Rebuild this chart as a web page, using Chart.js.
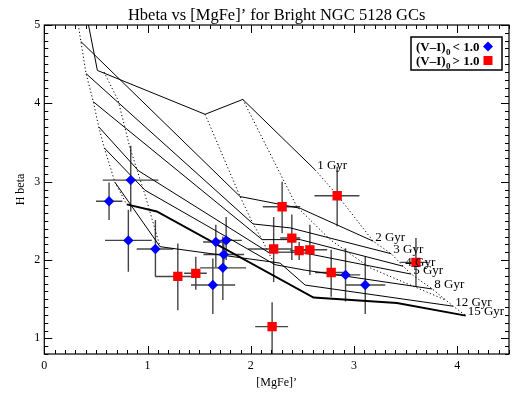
<!DOCTYPE html>
<html lang="en">
<head>
<meta charset="UTF-8">
<title>Hbeta vs [MgFe]' for Bright NGC 5128 GCs</title>
<script src="https://cdn.jsdelivr.net/npm/chart.js"></script>
<style>
    html, body { margin: 0; padding: 0; background: #ffffff; }
    canvas { display: block; }
</style>
</head>
<body>
<canvas id="chart" width="519" height="393"></canvas>
<script>
// clusters with (V-I)0 < 1.0 (blue diamonds)
const blueX   = [0.627, 0.837, 0.814, 1.076, 1.661, 1.761, 1.738, 1.729, 1.632, 2.917, 3.108];
const blueY   = [2.75, 3.02, 2.25, 2.14, 2.23, 2.25, 2.07, 1.90, 1.68, 1.81, 1.68];
const blueXLo = [0.501, 0.566, 0.588, 0.895, 1.538, 1.638, 1.541, 1.509, 1.421, 2.768, 2.914];
const blueXHi = [0.756, 1.105, 1.041, 1.250, 1.767, 1.913, 1.935, 1.954, 1.848, 3.059, 3.302];
const blueYLo = [2.51, 2.62, 1.85, 1.79, 1.91, 2.00, 1.87, 1.49, 1.31, 1.47, 1.31];
const blueYHi = [2.99, 3.46, 2.64, 2.51, 2.45, 2.55, 2.26, 2.30, 2.02, 2.15, 2.04];

// clusters with (V-I)0 > 1.0 (red squares)
const redX   = [1.293, 1.467, 2.303, 2.221, 2.206, 2.836, 2.397, 2.468, 2.572, 2.778, 3.599];
const redY   = [1.79, 1.83, 2.68, 2.14, 1.15, 2.82, 2.28, 2.12, 2.13, 1.84, 1.97];
const redXLo = [1.073, 1.354, 2.116, 1.974, 2.042, 2.616, 2.284, 2.381, 2.507, 2.623, 3.447];
const redXHi = [1.509, 1.574, 2.478, 2.400, 2.361, 3.052, 2.478, 2.555, 2.739, 2.930, 3.721];
const redYLo = [1.36, 1.62, 2.34, 1.72, 0.70, 2.43, 2.00, 2.00, 1.81, 1.53, 1.66];
const redYHi = [2.21, 2.04, 3.00, 2.55, 1.46, 3.19, 2.58, 2.23, 2.45, 2.13, 2.28];

// model grid: lines of constant age
const gyr1  = [[0.409, 5.13], [0.514, 4.42], [1.557, 3.86], [1.922, 4.05], [2.623, 3.15]];
const gyr2  = [[0.353, 4.79], [1.896, 2.81], [2.478, 2.66], [3.185, 2.24]];
const gyr3  = [[0.404, 4.38], [2.022, 2.46], [2.381, 2.41], [3.360, 2.08]];
const gyr4  = [[0.475, 4.02], [2.110, 2.26], [2.478, 2.26], [3.476, 1.92]];
const gyr5  = [[0.527, 3.70], [0.911, 3.14], [2.168, 2.10], [2.478, 2.10], [3.553, 1.82]];
const gyr8  = [[0.581, 3.43], [0.976, 2.89], [2.235, 1.94], [2.526, 1.87], [3.757, 1.63]];
const gyr12 = [[0.685, 2.99], [1.121, 2.17], [2.284, 1.96], [2.526, 1.68], [3.960, 1.41]];
const gyr15 = [[0.798, 2.71], [1.089, 2.62], [2.607, 1.52], [3.415, 1.45], [4.081, 1.29]];
const ageNames = ['1 Gyr', '2 Gyr', '3 Gyr', '4 Gyr', '5 Gyr', '8 Gyr', '12 Gyr', '15 Gyr'];

// model grid: lines of constant metallicity (dotted)
const metal1 = [[0.302, 5.09], [0.329, 5.00], [0.404, 4.38], [0.475, 4.02], [0.527, 3.70], [0.581, 3.43], [0.685, 2.99], [0.798, 2.71]];
const metal2 = [[0.578, 4.40], [0.714, 4.04], [0.830, 3.43], [0.976, 2.83], [1.121, 2.17]];
const metal3 = [[1.557, 3.86], [1.896, 2.81], [2.022, 2.46], [2.110, 2.26], [2.168, 2.10], [2.235, 1.94]];
const metal4 = [[1.922, 4.05], [2.446, 2.68], [2.768, 2.26], [3.155, 1.90], [3.883, 1.49]];
const metal5 = [[2.623, 3.15], [2.836, 2.83], [3.185, 2.24], [3.360, 2.08], [3.476, 1.92], [3.553, 1.82], [3.757, 1.63], [3.960, 1.41], [4.081, 1.29]];

const ageTracks = [gyr1, gyr2, gyr3, gyr4, gyr5, gyr8, gyr12, gyr15];
const metalTracks = [metal1, metal2, metal3, metal4, metal5];

const serif = '"Liberation Serif", "DejaVu Serif", serif';
const toPts = arr => arr.map(p => ({x: p[0], y: p[1]}));

const datasets = [
    {
        label: 'blue',
        data: blueX.map((v, i) => ({x: v, y: blueY[i]})),
        pointStyle: 'rectRot',
        pointRadius: 5.2,
        backgroundColor: '#0000ff',
        borderColor: '#0000ff',
        borderWidth: 0
    },
    {
        label: 'red',
        data: redX.map((v, i) => ({x: v, y: redY[i]})),
        pointStyle: 'rect',
        pointRadius: 6.6,
        backgroundColor: '#ff0000',
        borderColor: '#ff0000',
        borderWidth: 0
    }
];
ageTracks.forEach((t, i) => {
    datasets.push({
        label: ageNames[i],
        data: toPts(t),
        showLine: true,
        pointRadius: 0,
        borderColor: '#000000',
        borderWidth: i === ageTracks.length - 1 ? 2 : 1
    });
});
metalTracks.forEach((t, i) => {
    datasets.push({
        label: 'Z' + (i + 1),
        data: toPts(t),
        showLine: true,
        pointRadius: 0,
        borderColor: '#000000',
        borderWidth: 1,
        borderDash: [1.2, 2.4]
    });
});

// error bars, frame with inward ticks, title, track labels and legend
const decor = {
    id: 'decor',
    beforeDatasetsDraw(chart) {
        const {ctx, chartArea: a, scales: {x, y}} = chart;
        ctx.save();
        ctx.beginPath();
        ctx.rect(a.left, a.top, a.right - a.left, a.bottom - a.top);
        ctx.clip();
        ctx.strokeStyle = '#444444';
        ctx.lineWidth = 1.4;
        const seg = (x1, y1, x2, y2) => {
            ctx.beginPath();
            ctx.moveTo(x.getPixelForValue(x1), y.getPixelForValue(y1));
            ctx.lineTo(x.getPixelForValue(x2), y.getPixelForValue(y2));
            ctx.stroke();
        };
        blueX.forEach((v, i) => {
            seg(blueXLo[i], blueY[i], blueXHi[i], blueY[i]);
            seg(v, blueYLo[i], v, blueYHi[i]);
        });
        redX.forEach((v, i) => {
            seg(redXLo[i], redY[i], redXHi[i], redY[i]);
            seg(v, redYLo[i], v, redYHi[i]);
        });
        ctx.restore();
    },
    afterDraw(chart) {
        const {ctx, chartArea: a, scales: {x, y}} = chart;
        ctx.save();
        ctx.strokeStyle = '#000000';
        ctx.lineWidth = 1.2;
        ctx.strokeRect(a.left, a.top, a.right - a.left, a.bottom - a.top);

        // ticks every 0.1, longer at whole numbers
        ctx.lineWidth = 1;
        ctx.beginPath();
        for (let i = 0; i <= 45; i++) {
            const px = Math.round(x.getPixelForValue(i / 10)) + 0.5;
            const len = i % 10 === 0 ? 8 : 4;
            ctx.moveTo(px, a.bottom); ctx.lineTo(px, a.bottom - len);
            ctx.moveTo(px, a.top); ctx.lineTo(px, a.top + len);
        }
        for (let i = 8; i <= 50; i++) {
            const py = Math.round(y.getPixelForValue(i / 10)) + 0.5;
            const len = i % 10 === 0 ? 8 : 4;
            ctx.moveTo(a.left, py); ctx.lineTo(a.left + len, py);
            ctx.moveTo(a.right, py); ctx.lineTo(a.right - len, py);
        }
        ctx.stroke();

        // title
        ctx.fillStyle = '#000000';
        ctx.font = '16.5px ' + serif;
        ctx.textAlign = 'center';
        ctx.textBaseline = 'alphabetic';
        ctx.fillText('Hbeta vs [MgFe]\u2019 for Bright NGC 5128 GCs', (a.left + a.right) / 2, 19.5);

        // age labels at the end of each track
        ctx.font = '13px ' + serif;
        ctx.textAlign = 'left';
        ctx.textBaseline = 'middle';
        ageTracks.forEach((t, i) => {
            const p = t[t.length - 1];
            ctx.fillText(ageNames[i], x.getPixelForValue(p[0]) + 2, y.getPixelForValue(p[1]) - 4);
        });

        // legend box
        const bx = a.right - 98, by = a.top + 12;
        ctx.lineWidth = 1.5;
        ctx.strokeRect(bx, by, 91, 33);
        ctx.textBaseline = 'alphabetic';
        const rows = [['<', '#0000ff', 'rectRot'], ['>', '#ff0000', 'rect']];
        rows.forEach((r, k) => {
            const base = by + 14 + k * 14;
            ctx.fillStyle = '#000000';
            ctx.font = 'bold 13px ' + serif;
            ctx.fillText('(V\u2013I)', bx + 5, base);
            const w = ctx.measureText('(V\u2013I)').width;
            ctx.font = 'bold 9px ' + serif;
            ctx.fillText('0', bx + 5 + w + 0.5, base + 4);
            ctx.font = 'bold 13px ' + serif;
            ctx.fillText(r[0] + ' 1.0', bx + 5 + w + 7, base);
            const mx = bx + 77, my = base - 4.5;
            ctx.fillStyle = r[1];
            ctx.beginPath();
            if (r[2] === 'rectRot') {
                ctx.moveTo(mx - 5, my); ctx.lineTo(mx, my - 5);
                ctx.lineTo(mx + 5, my); ctx.lineTo(mx, my + 5);
                ctx.closePath();
            } else {
                ctx.rect(mx - 4.5, my - 4.5, 9, 9);
            }
            ctx.fill();
        });
        ctx.restore();
    }
};

new Chart(document.getElementById('chart').getContext('2d'), {
    type: 'scatter',
    data: { datasets: datasets },
    options: {
        responsive: false,
        animation: false,
        layout: { padding: { top: 25, left: 6, right: 10, bottom: 0 } },
        plugins: {
            legend: { display: false },
            tooltip: { enabled: false },
            title: { display: false }
        },
        scales: {
            x: {
                type: 'linear',
                min: 0,
                max: 4.5,
                afterFit: s => { s.height = 39; },
                grid: { display: false, drawTicks: false },
                border: { display: false },
                ticks: {
                    stepSize: 1,
                    includeBounds: false,
                    padding: 5,
                    color: '#000000',
                    font: { family: serif, size: 12 }
                },
                title: {
                    display: true,
                    text: '[MgFe]\u2019',
                    color: '#000000',
                    font: { family: serif, size: 12 },
                    padding: { top: 2, bottom: 3 }
                }
            },
            y: {
                type: 'linear',
                min: 0.8,
                max: 5,
                afterFit: s => { s.width = 38.3; },
                grid: { display: false, drawTicks: false },
                border: { display: false },
                ticks: {
                    stepSize: 1,
                    includeBounds: false,
                    padding: 4,
                    color: '#000000',
                    font: { family: serif, size: 12 }
                },
                title: {
                    display: true,
                    text: 'H beta',
                    color: '#000000',
                    font: { family: serif, size: 12 },
                    padding: { top: 7.5, bottom: 6.4 }
                }
            }
        }
    },
    plugins: [decor]
});
</script>
</body>
</html>
